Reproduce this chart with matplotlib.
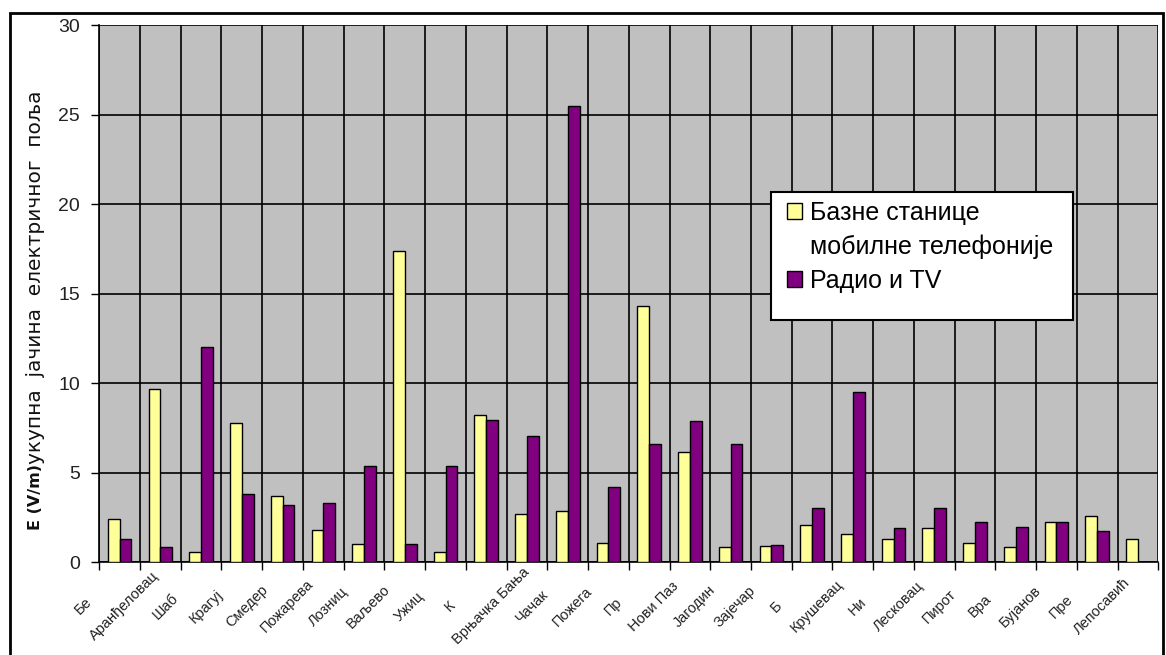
import matplotlib
matplotlib.use('Agg')
import matplotlib.pyplot as plt
import matplotlib.transforms as mtransforms
import numpy as np
from matplotlib.patches import Patch, Rectangle

plt.rcParams['font.family'] = ['Liberation Sans', 'DejaVu Sans']

# Градови (ознаке су скраћене као на оригиналу)
cities = ['Бе', 'Аранђеловац', 'Шаб', 'Крагуј', 'Смедер', 'Пожарева', 'Лозниц',
          'Ваљево', 'Ужиц', 'К', 'Врњачка Бања', 'Чачак', 'Пожега', 'Пр',
          'Нови Паз', 'Јагодин', 'Зајечар', 'Б', 'Крушевац', 'Ни', 'Лесковац',
          'Пирот', 'Вра', 'Бујанов', 'Пре', 'Лепосавић']

# Базне станице мобилне телефоније (V/m)
mobile = [2.4, 9.65, 0.55, 7.8, 3.72, 1.8, 1.03, 17.4, 0.6, 8.22, 2.67, 2.85, 1.05,
          14.3, 6.17, 0.85, 0.93, 2.08, 1.57, 1.3, 1.9, 1.05, 0.85, 2.25, 2.6, 1.3]

# Радио и TV (V/m)
radio_tv = [1.3, 0.87, 12.0, 3.83, 3.2, 3.3, 5.4, 1.03, 5.38, 7.95, 7.03, 25.5, 4.18,
            6.6, 7.9, 6.6, 0.96, 3.04, 9.5, 1.93, 3.04, 2.27, 1.99, 2.25, 1.74, 0]

W, H = 1166, 655
fig = plt.figure(figsize=(W / 100, H / 100), dpi=100)
ax = fig.add_axes([99.3 / W, 1 - 562.3 / H, (1158.3 - 99.3) / W, (562.3 - 25) / H])

x = np.arange(len(cities))
width = 0.29

ax.set_facecolor('#C0C0C0')
ax.bar(x - width / 2, mobile, width, color='#FFFF99', edgecolor='black', linewidth=1.0, zorder=3)
ax.bar(x + width / 2, radio_tv, width, color='#800080', edgecolor='black', linewidth=1.0, zorder=3)

ax.set_xlim(-0.5, len(cities) - 0.5)
ax.set_ylim(0, 30)
ax.set_yticks(np.arange(0, 31, 5))
ax.tick_params(axis='y', direction='out', length=6, width=1, labelsize=14,
               labelcolor='#222222', pad=8)

# ознаке градова: ротиране, центриране, померене улево-доле
ax.set_xticks(x)
ax.set_xticklabels(cities, fontsize=10.5, color='#222222')
ax.tick_params(axis='x', which='major', length=0, pad=0)
shift = mtransforms.ScaledTranslation(-0.36, -0.44, fig.dpi_scale_trans)
for lab in ax.get_xticklabels():
    lab.set_rotation(45)
    lab.set_rotation_mode('anchor')
    lab.set_ha('center')
    lab.set_va('center')
    lab.set_transform(lab.get_transform() + shift)
ax.set_xticks(np.arange(-0.5, len(cities), 1), minor=True)
ax.tick_params(axis='x', which='minor', direction='out', length=6, width=1)

ax.grid(axis='y', which='major', color='black', linewidth=1.2, zorder=1)
ax.grid(axis='x', which='minor', color='black', linewidth=1.2, zorder=1)
ax.set_axisbelow(True)
for s in ['top', 'right']:
    ax.spines[s].set_visible(False)
for s in ['left', 'bottom']:
    ax.spines[s].set_linewidth(1.2)

# Наслов y-осе: део подебљан, део обичан
t1 = fig.text(36 / W, 1 - 530 / H, 'E (V/m)', rotation=90, fontsize=11.5,
              family='DejaVu Sans', fontweight='bold', ha='center', va='bottom',
              color='#111111')
fig.canvas.draw()
bb = t1.get_window_extent()
fig.text(36 / W, bb.y1 / H, 'укупна  јачина  електричног  поља', rotation=90,
         fontsize=14.5, family='DejaVu Sans', ha='center', va='bottom', color='#111111')

# Легенда (оквир нацртан посебно)
fig.patches.append(Rectangle((771 / W, 1 - 320 / H), (1073 - 771) / W, 128 / H,
                             transform=fig.transFigure, facecolor='white',
                             edgecolor='black', linewidth=1.5, zorder=4))
handles = [Patch(facecolor='#FFFF99', edgecolor='black'),
           Patch(facecolor='none', edgecolor='none'),
           Patch(facecolor='#800080', edgecolor='black')]
leg = fig.legend(handles, ['Базне станице', 'мобилне телефоније', 'Радио и TV'],
                 loc='upper left', bbox_to_anchor=(787 / W, 1 - 201 / H),
                 fontsize=18, frameon=False, handlelength=0.6, handleheight=0.6,
                 handletextpad=0.32, borderpad=0, labelspacing=0.39,
                 borderaxespad=0)
leg.set_zorder(5)

# Оквир око целог графикона
fig.patches.append(Rectangle((10 / W, -0.05), (1163 - 10) / W, 1.05 - 13 / H,
                             transform=fig.transFigure, fill=False,
                             edgecolor='black', linewidth=2))

fig.savefig('out.png', dpi=100)
